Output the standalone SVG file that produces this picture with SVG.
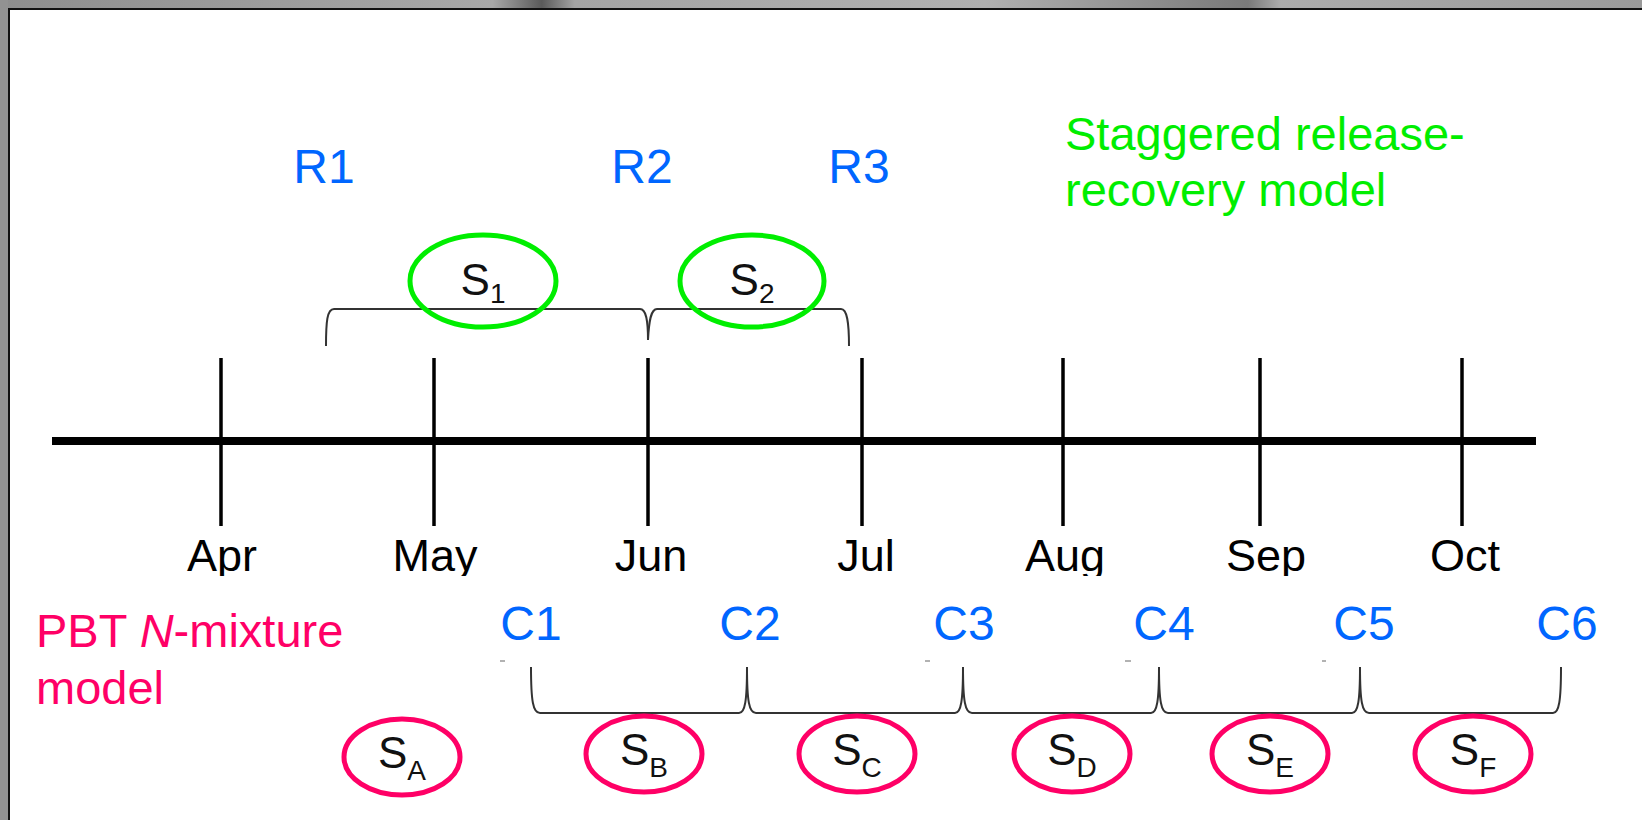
<svg xmlns="http://www.w3.org/2000/svg" width="1642" height="820" viewBox="0 0 1642 820">
<style>
.t{font-family:"Liberation Sans",Arial,Helvetica,sans-serif}
.blue{fill:#0066ff;font-size:48px}
.mon{fill:#000;font-size:45px}
.green{fill:#00ee00;font-size:47px}
.pink{fill:#ff0066;font-size:47px}
.sl{fill:#111;font-size:44px}
.sub{font-size:28px}
.eg{fill:none;stroke:#00ee00;stroke-width:5}
.ep{fill:none;stroke:#ff0066;stroke-width:5}
.br{fill:none;stroke:#333;stroke-width:2}
.tick{stroke:#000;stroke-width:3.5}
.axis{stroke:#000;stroke-width:8}
.speck{stroke:#999;stroke-width:1.5}
</style>
<defs>
<clipPath id="monclip"><rect x="0" y="0" width="1642" height="576"/></clipPath>
<linearGradient id="grayv" x1="0" y1="0" x2="1" y2="0">
<stop offset="0" stop-color="#8e8e8e"/><stop offset="0.3" stop-color="#a8a8a8"/><stop offset="0.33" stop-color="#5a5a5a"/><stop offset="0.35" stop-color="#a4a4a4"/><stop offset="0.6" stop-color="#b0b0b0"/><stop offset="0.76" stop-color="#7a7a7a"/><stop offset="0.78" stop-color="#acacac"/><stop offset="1" stop-color="#9a9a9a"/>
</linearGradient>
</defs>
<g id="frame">
<rect x="0" y="0" width="1642" height="820" fill="#fff"/>
<rect x="0" y="0" width="1642" height="8" fill="url(#grayv)"/>
<rect x="0" y="0" width="8" height="820" fill="#929292"/>
<line x1="8" y1="9" x2="1642" y2="9" stroke="#111" stroke-width="2"/>
<line x1="9" y1="9" x2="9" y2="820" stroke="#111" stroke-width="2"/>
</g>
<g id="timeline">
<line class="axis" x1="52" y1="441" x2="1536" y2="441"/>
<line class="tick" x1="221" y1="358" x2="221" y2="526"/>
<line class="tick" x1="434" y1="358" x2="434" y2="526"/>
<line class="tick" x1="648" y1="358" x2="648" y2="526"/>
<line class="tick" x1="862" y1="358" x2="862" y2="526"/>
<line class="tick" x1="1063" y1="358" x2="1063" y2="526"/>
<line class="tick" x1="1260" y1="358" x2="1260" y2="526"/>
<line class="tick" x1="1462" y1="358" x2="1462" y2="526"/>
</g>
<g id="months" class="t mon" text-anchor="middle" clip-path="url(#monclip)">
<text x="222" y="571">Apr</text>
<text x="435" y="571">May</text>
<text x="651" y="571">Jun</text>
<text x="866" y="571">Jul</text>
<text x="1065" y="571">Aug</text>
<text x="1266" y="571">Sep</text>
<text x="1465" y="571">Oct</text>
</g>
<g id="connectors">
<path class="br" d="M326 346 C326 322 327 309 334 309 L640 309 C646 309 648 320 648 340"/>
<path class="br" d="M648 340 C649 320 651 309 657 309 L841 309 C847 309 849 322 849 346"/>
<path class="br" d="M531 667 C531 701 533 713 540 713 L739 713 C745 713 747 701 747 667"/>
<path class="br" d="M747 667 C747 701 749 713 756 713 L955 713 C961 713 963 701 963 667"/>
<path class="br" d="M963 667 C963 701 965 713 972 713 L1151 713 C1157 713 1159 701 1159 667"/>
<path class="br" d="M1159 667 C1159 701 1161 713 1168 713 L1352 713 C1358 713 1360 701 1360 667"/>
<path class="br" d="M1360 667 C1360 701 1362 713 1369 713 L1553 713 C1559 713 1561 701 1561 667"/>
<line class="speck" x1="500" y1="661" x2="505" y2="661"/>
<line class="speck" x1="925" y1="661" x2="930" y2="661"/>
<line class="speck" x1="1125" y1="661" x2="1131" y2="661"/>
<line class="speck" x1="1322" y1="661" x2="1326" y2="661"/>
</g>
<g id="R1"><text class="t blue" x="324" y="183" text-anchor="middle">R1</text></g>
<g id="R2"><text class="t blue" x="642" y="183" text-anchor="middle">R2</text></g>
<g id="R3"><text class="t blue" x="859" y="183" text-anchor="middle">R3</text></g>
<g id="staggered-title"><text class="t green" x="1065" y="150">Staggered release-</text><text class="t green" x="1065" y="206">recovery model</text></g>
<g id="pbt-title"><text class="t pink" x="36" y="647">PBT <tspan font-style="italic">N</tspan>-mixture</text><text class="t pink" x="36" y="704">model</text></g>
<g id="C1"><text class="t blue" x="531" y="640" text-anchor="middle">C1</text></g>
<g id="C2"><text class="t blue" x="750" y="640" text-anchor="middle">C2</text></g>
<g id="C3"><text class="t blue" x="964" y="640" text-anchor="middle">C3</text></g>
<g id="C4"><text class="t blue" x="1164" y="640" text-anchor="middle">C4</text></g>
<g id="C5"><text class="t blue" x="1364" y="640" text-anchor="middle">C5</text></g>
<g id="C6"><text class="t blue" x="1567" y="640" text-anchor="middle">C6</text></g>
<g id="S1"><ellipse class="eg" cx="483" cy="281" rx="73" ry="46"/><text class="t sl" x="483" y="295" text-anchor="middle">S<tspan class="sub" dy="8">1</tspan></text></g>
<g id="S2"><ellipse class="eg" cx="752" cy="281" rx="72" ry="46"/><text class="t sl" x="752" y="295" text-anchor="middle">S<tspan class="sub" dy="8">2</tspan></text></g>
<g id="SA"><ellipse class="ep" cx="402" cy="757" rx="58" ry="38"/><text class="t sl" x="402" y="768" text-anchor="middle">S<tspan class="sub" dy="12">A</tspan></text></g>
<g id="SB"><ellipse class="ep" cx="644" cy="754" rx="58" ry="38"/><text class="t sl" x="644" y="765" text-anchor="middle">S<tspan class="sub" dy="12">B</tspan></text></g>
<g id="SC"><ellipse class="ep" cx="857" cy="754" rx="58" ry="38"/><text class="t sl" x="857" y="765" text-anchor="middle">S<tspan class="sub" dy="12">C</tspan></text></g>
<g id="SD"><ellipse class="ep" cx="1072" cy="754" rx="58" ry="38"/><text class="t sl" x="1072" y="765" text-anchor="middle">S<tspan class="sub" dy="12">D</tspan></text></g>
<g id="SE"><ellipse class="ep" cx="1270" cy="754" rx="58" ry="38"/><text class="t sl" x="1270" y="765" text-anchor="middle">S<tspan class="sub" dy="12">E</tspan></text></g>
<g id="SF"><ellipse class="ep" cx="1473" cy="754" rx="58" ry="38"/><text class="t sl" x="1473" y="765" text-anchor="middle">S<tspan class="sub" dy="12">F</tspan></text></g>
</svg>
